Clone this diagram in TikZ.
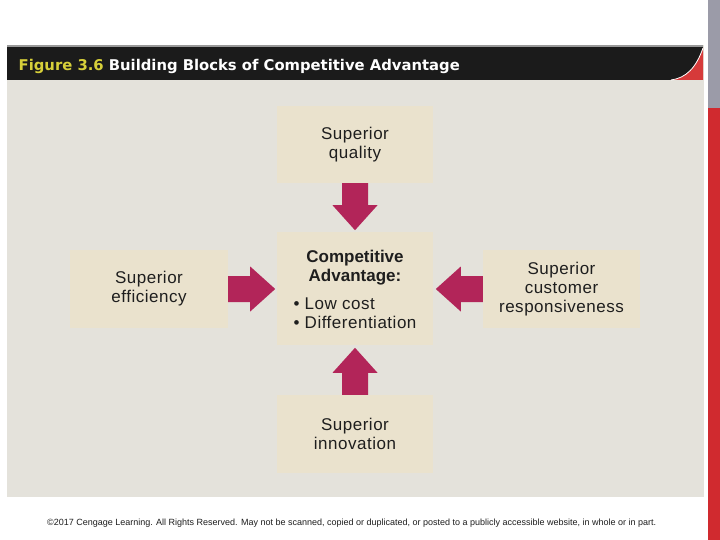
\documentclass[tikz,border=0pt]{standalone}
\usepackage{fontspec}
\usetikzlibrary{calc}
\setmainfont{Liberation Sans}
\newfontfamily\bodyfont[LetterSpace=3]{Liberation Sans}
\newfontfamily\plainfont{Liberation Sans}
\newfontfamily\titlefont{DejaVu Sans}
\newcommand{\cabold}[1]{{\plainfont\bfseries #1}}
\definecolor{panelc}{HTML}{E4E2DB}
\definecolor{boxc}{HTML}{EAE2CD}
\definecolor{arrowc}{HTML}{B22559}
\definecolor{headc}{HTML}{1B1B1B}
\definecolor{barred}{HTML}{D02A2F}
\definecolor{bargrey}{HTML}{9B9BA8}
\definecolor{swooshc}{HTML}{D63A3A}
\definecolor{figyellow}{HTML}{D7D03A}
\definecolor{txtc}{HTML}{1E1E1E}
\tikzset{
  box/.style={fill=boxc, draw=none, inner sep=0pt, text=txtc, align=center,
    font=\bodyfont\fontsize{17}{19}\selectfont},
  blockarrow/.pic={\fill[arrowc] (0,-13) -- (22,-13) -- (22,-22.5) -- (47,0) -- (22,22.5) -- (22,13) -- (0,13) -- cycle;}
}
\begin{document}
\begin{tikzpicture}[x=1pt,y=-1pt]
\useasboundingbox (0,0) rectangle (720,540);
\fill[white] (0,0) rectangle (720,540);
% right edge bar
\fill[bargrey] (708,0) rectangle (720,108);
\fill[barred] (708,108) rectangle (720,540);
% panel
\fill[panelc] (7,45) rectangle (704,497);
\fill[gray!80] (7,45) rectangle (703,47.5);
\fill[headc] (7,47.5) rectangle (703,80);
\fill[swooshc] (703,48) .. controls (696,68) and (686,78) .. (671,80) -- (703,80) -- cycle;
\draw[white, line width=0.8pt] (703,48) .. controls (696,68) and (686,78) .. (671,80);
% title
\node[anchor=base west, inner sep=0pt, font=\titlefont\bfseries\fontsize{14.8}{15}\selectfont] (title) at (18.5,71)
  {\textcolor{figyellow}{Figure 3.6} \textcolor{white}{Building Blocks of Competitive Advantage}};
% boxes
\node[box, minimum width=156pt, minimum height=77pt] (q) at (355,144.5) {Superior\\quality};
\node[box, minimum width=156pt, minimum height=113pt] (ca) at (355,288.5) {};
\node[box, minimum width=156pt, minimum height=78pt] (inn) at (355,434) {Superior\\innovation};
\node[box, minimum width=158pt, minimum height=78pt] (eff) at (149,289) {Superior\\efficiency};
\node[box, minimum width=157pt, minimum height=78pt] (resp) at (561.5,289) {Superior\\customer\\responsiveness};
% center text
\node[align=center, inner sep=0pt, text=txtc, font=\bodyfont\fontsize{17}{19}\selectfont] (catxt) at ($(ca.center)+(0,4)$)
  {\cabold{Competitive}\\\cabold{Advantage:}\\[10pt]\begin{tabular}{@{}l@{}}\textbullet\ Low cost\\ \textbullet\ Differentiation\end{tabular}};
% arrows
\pic[rotate=-90] at (q.south) {blockarrow};
\pic at (eff.east) {blockarrow};
\pic[rotate=180] at (resp.west) {blockarrow};
\pic[rotate=90] at (inn.north) {blockarrow};
% footer
\node[anchor=base west, inner sep=0pt, text=txtc, font=\fontsize{9}{10}\selectfont] (foot) at (47,525.5)
  {\textcopyright2017 Cengage Learning. All Rights Reserved. May not be scanned, copied or duplicated, or posted to a publicly accessible website, in whole or in part.};
\end{tikzpicture}
\end{document}
